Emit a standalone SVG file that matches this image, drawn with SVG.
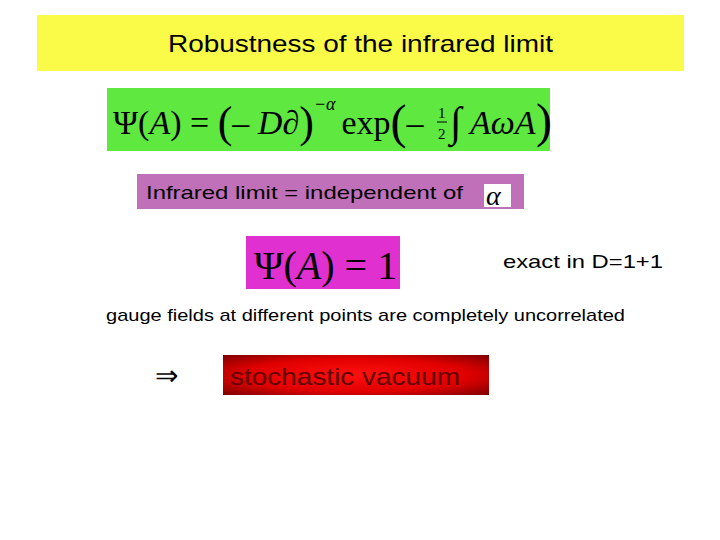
<svg xmlns="http://www.w3.org/2000/svg" width="720" height="540" viewBox="0 0 720 540">
<style>
.s{font-family:"Liberation Sans",Arial,sans-serif;fill:#000}
.m{font-family:"Liberation Serif","Times New Roman",serif;fill:#000}
.i{font-style:italic}
</style>
<defs>
<radialGradient id="rg" cx="0.5" cy="0.5" r="0.7">
<stop offset="0" stop-color="#ff1010"/><stop offset="0.6" stop-color="#e00000"/><stop offset="1" stop-color="#800000"/>
</radialGradient>
</defs>
<rect width="720" height="540" fill="#fff"/>
<g id="title"><rect x="37" y="15" width="647" height="56" fill="#fafa48"/>
<text class="s" x="168" y="52" font-size="24" textLength="385" lengthAdjust="spacingAndGlyphs">Robustness of the infrared limit</text></g>
<g id="eq1"><rect x="107" y="88" width="443" height="63" fill="#5ee840"/>
<text class="m" x="113" y="134" font-size="34"><tspan>Ψ(</tspan><tspan class="i">A</tspan><tspan>) = </tspan><tspan font-size="44" dy="3">(</tspan><tspan dy="-3">– </tspan><tspan class="i">D</tspan><tspan class="i">∂</tspan><tspan font-size="44" dy="3">)</tspan><tspan class="i" font-size="18" dy="-27">−α</tspan><tspan dx="6" dy="24">exp</tspan><tspan font-size="48" dy="4">(</tspan><tspan dy="-4">–</tspan></text>
<text class="m" x="438" y="118" font-size="15">1</text><line x1="437" y1="122" x2="447" y2="122" stroke="#000" stroke-width="1"/><text class="m" x="438" y="139" font-size="15">2</text>
<text class="m" x="450" y="136" font-size="42">∫</text>
<text class="m i" x="470" y="134" font-size="34">AωA</text>
<text class="m" x="536" y="137" font-size="48">)</text></g>
<g id="infra"><rect x="137" y="174" width="387" height="35" fill="#c070b8"/>
<text class="s" x="146" y="199" font-size="19" textLength="317" lengthAdjust="spacingAndGlyphs">Infrared limit = independent of</text>
<rect x="484" y="184" width="27" height="23" fill="#fff"/>
<text class="m i" x="486" y="205" font-size="28">α</text></g>
<g id="eq2"><rect x="246" y="236" width="154" height="53" fill="#e030d0"/>
<text class="m" x="254" y="279" font-size="40"><tspan>Ψ(</tspan><tspan class="i">A</tspan><tspan>) = 1</tspan></text></g>
<text class="s" x="503" y="268" font-size="19" textLength="160" lengthAdjust="spacingAndGlyphs">exact in D=1+1</text>
<text class="s" x="106" y="321" font-size="17" textLength="519" lengthAdjust="spacingAndGlyphs">gauge fields at different points are completely uncorrelated</text>
<text class="m" x="155" y="385" font-size="28">⇒</text>
<g id="vac"><rect x="223" y="355" width="266" height="40" fill="url(#rg)"/>
<text class="s" x="230" y="385" font-size="24" style="fill:#600000" textLength="230" lengthAdjust="spacingAndGlyphs">stochastic vacuum</text></g>
</svg>
